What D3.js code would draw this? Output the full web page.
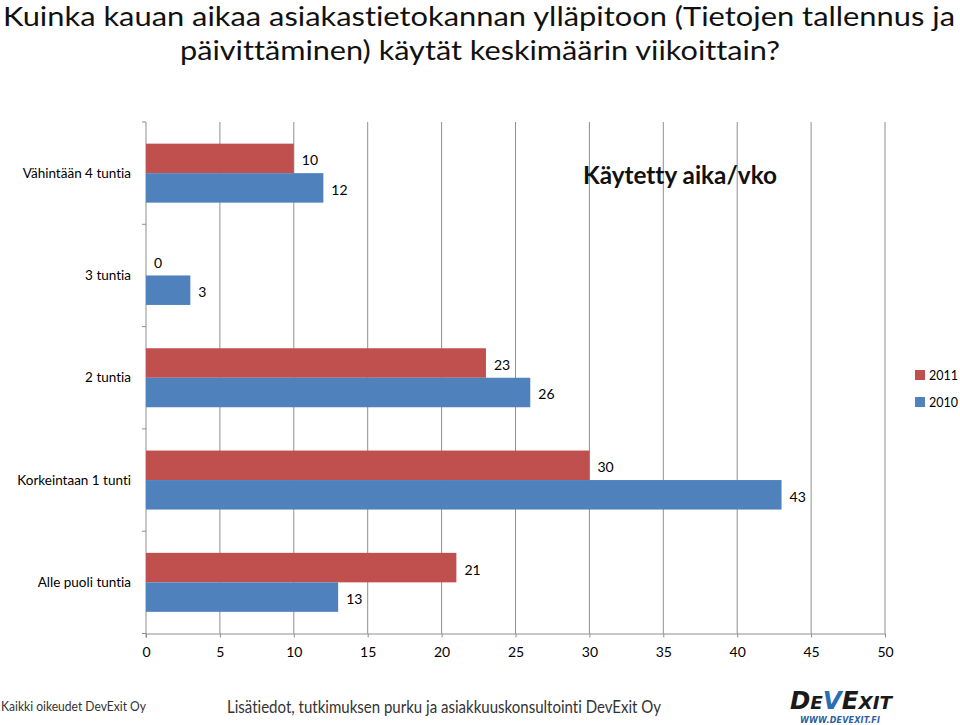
<!DOCTYPE html>
<html><head><meta charset="utf-8">
<script src="https://cdn.jsdelivr.net/npm/d3@7/dist/d3.min.js"></script>
<style>body{margin:0;background:#fff}svg{display:block}text{font-variant-ligatures:none}</style>
</head><body><svg id="c" width="960" height="725"></svg>
<script>
const categories = ["Vähintään 4 tuntia","3 tuntia","2 tuntia","Korkeintaan 1 tunti","Alle puoli tuntia"];
const seriesNames = ["2011","2010"];
const values2011 = [10,0,23,30,21];
const values2010 = [12,3,26,43,13];
const xTicks = [0,5,10,15,20,25,30,35,40,45,50];
const titleLines = ["Kuinka kauan aikaa asiakastietokannan ylläpitoon (Tietojen tallennus ja","päivittäminen) käytät keskimäärin viikoittain?"];
const colors = {"2011":"#C0504D","2010":"#4F81BD"};
const FONT = "Lato, 'Open Sans', sans-serif";
const svg = d3.select("#c").style("font-family",FONT);

const L=146,R=885,T=122,B=633.5;
const x = d3.scaleLinear().domain([0,50]).range([L,R]);
const y0 = d3.scaleBand().domain(categories).range([T,B]).padding(0);
const y1 = d3.scaleBand().domain(seriesNames).range([0,y0.bandwidth()]).paddingInner(0).paddingOuter(0.734);
const grid="#8f8f8f";

// gridlines + x axis
const xa = svg.append("g").attr("transform",`translate(0,${B})`)
  .call(d3.axisBottom(x).tickValues(xTicks).tickSize(4).tickPadding(10).tickSizeOuter(0));
xa.select(".domain").attr("stroke",grid);
xa.selectAll(".tick line").attr("stroke",grid);
xa.selectAll(".tick text").attr("font-size",14).attr("fill","#000").style("font-family",FONT);
svg.append("g").selectAll("line").data(xTicks.slice(1)).join("line")
  .attr("x1",d=>x(d)).attr("x2",d=>x(d)).attr("y1",T).attr("y2",B).attr("stroke",grid);

// y axis
svg.append("line").attr("x1",L).attr("x2",L).attr("y1",T).attr("y2",B+4).attr("stroke",grid);
const bounds = categories.map(c=>y0(c)).concat([B]);
svg.append("g").selectAll("line").data(bounds).join("line")
  .attr("x1",L-4).attr("x2",L).attr("y1",d=>d).attr("y2",d=>d).attr("stroke",grid);
svg.append("g").selectAll("text").data(categories).join("text")
  .attr("x",131).attr("y",d=>y0(d)+y0.bandwidth()/2).attr("dy","0.35em")
  .attr("text-anchor","end").attr("font-size",13.5).attr("fill","#000").text(d=>d);

// bars
const data = [];
categories.forEach((c,i)=>{
  data.push({c,s:"2011",v:values2011[i]});
  data.push({c,s:"2010",v:values2010[i]});
});
svg.append("g").selectAll("rect").data(data).join("rect")
  .attr("x",x(0)).attr("y",d=>y0(d.c)+y1(d.s)).attr("width",d=>x(d.v)-x(0))
  .attr("height",y1.bandwidth()).attr("fill",d=>colors[d.s]);
svg.append("g").selectAll("text").data(data).join("text")
  .attr("x",d=>x(d.v)+8).attr("y",d=>y0(d.c)+y1(d.s)+y1.bandwidth()/2+2).attr("dy","0.35em")
  .attr("font-size",14).attr("fill","#000").text(d=>d.v);

// chart title
svg.append("text").attr("x",583).attr("y",184).attr("font-size",24).attr("font-weight","bold")
  .attr("fill","#111").attr("textLength",194).attr("lengthAdjust","spacingAndGlyphs").text("Käytetty aika/vko");

// legend
const lg = svg.append("g").selectAll("g").data(seriesNames).join("g")
  .attr("transform",(d,i)=>`translate(915,${370+i*27})`);
lg.append("rect").attr("width",10).attr("height",10).attr("fill",d=>colors[d]);
lg.append("text").attr("x",14).attr("y",5).attr("dy","0.35em").attr("font-size",13.5).attr("fill","#000")
  .attr("textLength",29).attr("lengthAdjust","spacingAndGlyphs").text(d=>d);

// main title
svg.append("text").attr("x",3).attr("y",26).attr("font-size",26.5).attr("fill","#111")
  .attr("textLength",952).attr("lengthAdjust","spacingAndGlyphs").text(titleLines[0]);
svg.append("text").attr("x",180).attr("y",60).attr("font-size",26.5).attr("fill","#111")
  .attr("textLength",600).attr("lengthAdjust","spacingAndGlyphs").text(titleLines[1]);

// footer
svg.append("text").attr("x",1).attr("y",711).attr("font-size",13).attr("fill","#333")
  .attr("textLength",145).attr("lengthAdjust","spacingAndGlyphs").text("Kaikki oikeudet DevExit Oy");
svg.append("text").attr("x",227).attr("y",713).attr("font-size",17).attr("fill","#333")
  .attr("textLength",434).attr("lengthAdjust","spacingAndGlyphs").text("Lisätiedot, tutkimuksen purku ja asiakkuuskonsultointi DevExit Oy");

// logo
const logo = svg.append("text").attr("x",790).attr("y",709).attr("font-weight","bold").attr("font-style","italic")
  .attr("fill","#1a1a1a").style("font-family","'DejaVu Sans', sans-serif").attr("textLength",102).attr("lengthAdjust","spacingAndGlyphs");
logo.append("tspan").attr("font-size",24).text("D");
logo.append("tspan").attr("font-size",18).text("E");
logo.append("tspan").attr("font-size",24).attr("fill","#2B6CB3").text("V");
logo.append("tspan").attr("font-size",24).text("E");
logo.append("tspan").attr("font-size",18).text("XIT");
svg.append("text").attr("x",800).attr("y",723).attr("font-size",8).attr("font-weight","bold").attr("font-style","italic")
  .attr("fill","#2E5F9E").style("font-family","'DejaVu Sans', sans-serif").attr("textLength",80).attr("lengthAdjust","spacing").text("WWW.DEVEXIT.FI");
</script></body></html>
